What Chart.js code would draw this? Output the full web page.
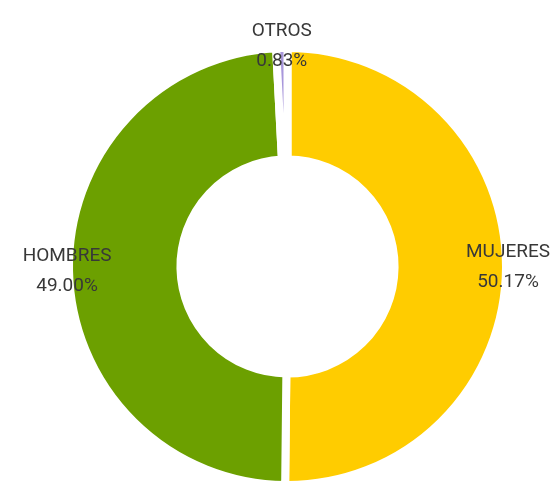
<!DOCTYPE html>
<html>
<head>
<meta charset="utf-8">
<script src="https://cdn.jsdelivr.net/npm/chart.js@4/dist/chart.umd.min.js"></script>
<style>
  html, body { margin: 0; padding: 0; background: #fff; overflow: hidden; }
  #wrap { position: absolute; left: 0; top: 0; width: 552px; height: 500px; }
</style>
</head>
<body>
<div id="wrap"><canvas id="c" width="552" height="500"></canvas></div>
<script>
const categories = ['MUJERES', 'HOMBRES', 'OTROS'];
const values = [50.17, 49.00, 0.83];
const colors = ['#FFCC00', '#6CA000', '#A897DB'];

const labelPlugin = {
  id: 'outerLabels',
  afterDatasetsDraw(chart) {
    const ctx = chart.ctx;
    const meta = chart.getDatasetMeta(0);
    ctx.save();
    ctx.font = '19px Roboto, "Liberation Sans", sans-serif';
    ctx.fillStyle = '#383838';
    ctx.textAlign = 'center';
    ctx.textBaseline = 'middle';
    meta.data.forEach((arc, i) => {
      const p = arc.getProps(['x', 'y', 'startAngle', 'endAngle', 'outerRadius'], true);
      const mid = (p.startAngle + p.endAngle) / 2;
      const r = p.outerRadius + 2;
      const cx = p.x + Math.cos(mid) * r;
      const cy = p.y + Math.sin(mid) * r;
      ctx.fillText(categories[i], cx, cy - 15);
      ctx.fillText(values[i].toFixed(2) + '%', cx, cy + 15);
    });
    ctx.restore();
  }
};

new Chart(document.getElementById('c'), {
  type: 'doughnut',
  data: {
    labels: categories,
    datasets: [{
      data: values,
      backgroundColor: colors,
      hoverBackgroundColor: colors,
      borderColor: '#ffffff',
      hoverBorderColor: '#ffffff',
      borderWidth: 8,
      hoverBorderWidth: 8
    }]
  },
  options: {
    responsive: false,
    animation: false,
    cutout: '49%',
    layout: { padding: { left: 65, top: 44, right: 42, bottom: 11 } },
    plugins: {
      legend: { display: false },
      tooltip: { enabled: false }
    },
    events: []
  },
  plugins: [labelPlugin]
});
</script>
</body>
</html>
